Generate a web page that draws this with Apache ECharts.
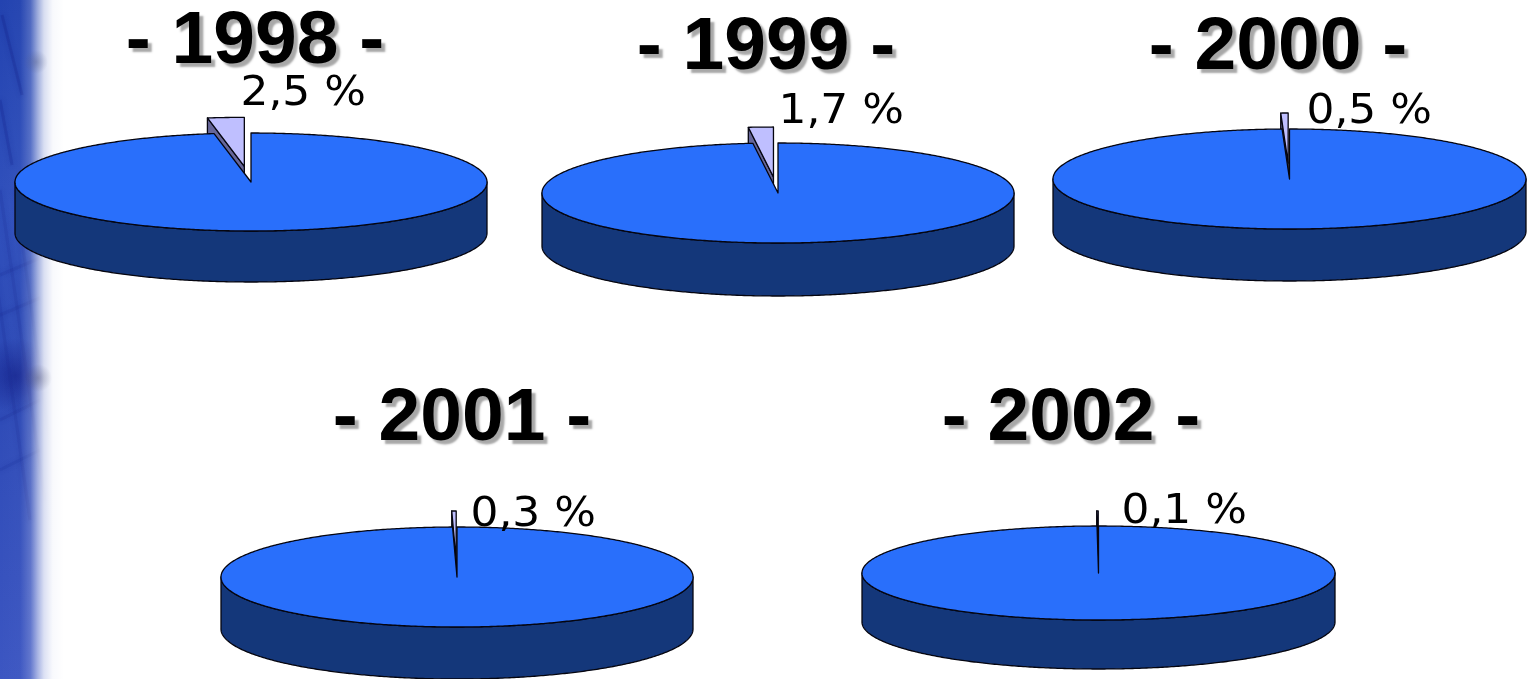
<!DOCTYPE html>
<html><head><meta charset="utf-8">
<style>html,body{margin:0;padding:0;background:#fff}#c{width:1531px;height:679px}</style>
<script src="https://cdn.jsdelivr.net/npm/echarts@6/dist/echarts.min.js"></script>
</head><body><div id="c"></div>
<script>
// Data
const years = ['1998', '1999', '2000', '2001', '2002'];
const smallShare = [2.5, 1.7, 0.5, 0.3, 0.1];
const labelText = ['2,5 %', '1,7 %', '0,5 %', '0,3 %', '0,1 %'];
// Layout (separate from the values)
const pieCx = [251, 778, 1289.5, 457, 1098.5];
const pieCy = [182, 193, 179, 577, 573];
const pieRx = [236, 236, 236.5, 236, 236.5];
const pieRy = [49, 50, 50, 50, 47];
const pieDepth = [51, 53, 52, 52, 49];
const titleCx = [255, 766, 1278, 462, 1071];
const titleTop = [5, 11, 11, 382, 382];
const labelX = [240.5, 778.5, 1306.5, 470.5, 1121.5];
const labelY = [94, 112, 112, 515, 512];

const TOP = '#296ffb', SIDE = '#14377a', SLICE = '#bfbfff', SLICE_SIDE = '#666699', EDGE = '#05050f';

function renderItem(params, api) {
  const i = params.dataIndex;
  const share = api.value(1);
  const theta = share / 100 * Math.PI * 2;
  const cx = pieCx[i], cy = pieCy[i], rx = pieRx[i], ry = pieRy[i], d = pieDepth[i];
  const P = (a, ox, oy) => [cx + (ox || 0) + rx * Math.sin(a), cy + (oy || 0) - ry * Math.cos(a)];
  const arc = (a0, a1, ox, oy) => {
    const n = Math.max(2, Math.ceil(Math.abs(a1 - a0) / 0.01));
    const out = [];
    for (let k = 0; k <= n; k++) out.push(P(a0 + (a1 - a0) * k / n, ox, oy));
    return out;
  };
  const poly = (points, fill) => ({
    type: 'polygon', shape: { points },
    style: { fill, stroke: EDGE, lineWidth: 1.3, lineJoin: 'round' }
  });
  // cylinder wall (front half)
  const wall = arc(Math.PI / 2, Math.PI * 3 / 2).concat(arc(Math.PI * 3 / 2, Math.PI / 2, 0, d));
  // exploded slice, runs from -theta to 0, pulled along its bisector
  const mid = theta / 2;
  const ox = -rx * Math.sin(mid) * 0.36, oy = -ry * Math.cos(mid) * 0.32;
  const apex = [cx + ox, cy + oy];
  const L = P(-theta, ox, oy);
  const sliceWall = [L, apex, [apex[0], apex[1] + d], [L[0], L[1] + d]];
  const sliceTop = [apex].concat(arc(-theta, 0, ox, oy));
  // main top face
  const mainTop = [[cx, cy]].concat(arc(0, Math.PI * 2 - theta));
  return {
    type: 'group',
    children: [
      poly(wall, SIDE),
      poly(sliceWall, SLICE_SIDE),
      poly(sliceTop, SLICE),
      poly(mainTop, TOP),
      {
        type: 'text', x: labelX[i], y: labelY[i], scaleX: 1.07, silent: true,
        style: { text: labelText[i], font: '41px "DejaVu Sans"', fill: '#000', align: 'left', verticalAlign: 'middle' }
      }
    ]
  };
}

// Background: blurred blue photo band at the left edge
const streak = (x1, y1, x2, y2, o) => ({
  type: 'line', z: 1, shape: { x1, y1, x2, y2 },
  style: { stroke: '#14258e', lineWidth: 3, opacity: o, shadowColor: '#14258e', shadowBlur: 5 }
});
const bgLines = [
  streak(2, 15, 22, 95, 0.3), streak(0, 100, 12, 165, 0.25),
  streak(-15, 200, 30, 520, 0.14), streak(0, 190, 45, 500, 0.14), streak(15, 190, 55, 480, 0.12),
  streak(0, 275, 40, 258, 0.14), streak(0, 315, 40, 298, 0.14), streak(0, 420, 40, 400, 0.14), streak(0, 470, 40, 450, 0.12)
];

const option = {
  animation: false,
  backgroundColor: '#ffffff',
  title: years.map((y, i) => ({
    text: '- ' + y + ' -',
    left: titleCx[i], top: titleTop[i], textAlign: 'center', padding: 0, z: 10,
    textStyle: {
      fontFamily: '"Liberation Sans"', fontWeight: 'bold', fontSize: 75, color: '#000',
      textShadowColor: '#a8a8a8', textShadowOffsetX: 4, textShadowOffsetY: 4, textShadowBlur: 2
    }
  })),
  graphic: [
    { type: 'rect', z: 0, shape: { x: 0, y: 0, width: 70, height: 679 },
      style: { fill: { type: 'linear', x: 0, y: 0, x2: 0, y2: 1, colorStops: [
        { offset: 0, color: '#2343b0' }, { offset: 0.3, color: '#3050bc' }, { offset: 0.55, color: '#2d4ab6' }, { offset: 1, color: '#3c56c2' }] } } },
    { type: 'ellipse', z: 1, shape: { cx: 16, cy: 376, rx: 40, ry: 38 },
      style: { fill: { type: 'radial', x: 0.5, y: 0.5, r: 0.5, colorStops: [
        { offset: 0, color: 'rgba(15,25,130,0.6)' }, { offset: 1, color: 'rgba(15,25,130,0)' }] } } },
    ...bgLines,
    { type: 'rect', z: 2, shape: { x: 0, y: 0, width: 80, height: 679 },
      style: { fill: { type: 'linear', x: 0, y: 0, x2: 1, y2: 0, colorStops: [
        { offset: 0, color: 'rgba(255,255,255,0)' }, { offset: 0.25, color: 'rgba(255,255,255,0.02)' },
        { offset: 0.38, color: 'rgba(255,255,255,0.2)' }, { offset: 0.47, color: 'rgba(255,255,255,0.55)' },
        { offset: 0.55, color: 'rgba(255,255,255,0.82)' }, { offset: 0.66, color: 'rgba(255,255,255,0.97)' },
        { offset: 0.8, color: 'rgba(255,255,255,1)' }, { offset: 1, color: 'rgba(255,255,255,1)' }] } } },
    { type: 'ellipse', z: 3, shape: { cx: 36, cy: 62, rx: 12, ry: 24 },
      style: { fill: { type: 'radial', x: 0.5, y: 0.5, r: 0.5, colorStops: [
        { offset: 0, color: 'rgba(80,90,130,0.35)' }, { offset: 1, color: 'rgba(80,90,130,0)' }] } } },
    { type: 'ellipse', z: 3, shape: { cx: 38, cy: 378, rx: 14, ry: 22 },
      style: { fill: { type: 'radial', x: 0.5, y: 0.5, r: 0.5, colorStops: [
        { offset: 0, color: 'rgba(60,60,90,0.3)' }, { offset: 1, color: 'rgba(60,60,90,0)' }] } } }
  ],
  series: [{
    type: 'custom', coordinateSystem: 'none', z: 5, silent: true,
    renderItem,
    data: years.map((y, i) => ({ name: y, value: [i, smallShare[i]] }))
  }]
};
echarts.init(document.getElementById('c'), null, { renderer: 'canvas' }).setOption(option);
</script></body></html>
